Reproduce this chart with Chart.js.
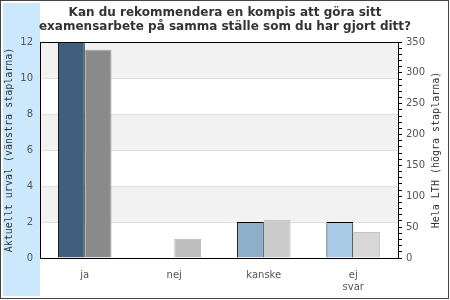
<!DOCTYPE html>
<html>
<head>
<meta charset="utf-8">
<script src="https://cdn.jsdelivr.net/npm/chart.js@4/dist/chart.umd.min.js"></script>
<style>
  html, body { margin: 0; padding: 0; background: #fff; }
  #wrap { width: 450px; height: 300px; position: relative; }
</style>
</head>
<body>
<div id="wrap"><canvas id="chart"></canvas></div>
<script>
const categories = ["ja", "nej", "kanske", ["ej", "svar"]];
const urvalValues = [12, 0, 2, 2];
const lthValues = [338, 31, 62, 42];
const leftTicks = [0, 2, 4, 6, 8, 10, 12];
const rightTicks = [0, 50, 100, 150, 200, 250, 300, 350];

const titleLines = [
  "Kan du rekommendera en kompis att göra sitt",
  "examensarbete på samma ställe som du har gjort ditt?",
];
const leftTitle = "Aktuellt urval (vänstra staplarna)";
const rightTitle = "Hela LTH (högra staplarna)";

const urvalColors = ["#3f5f7c", "#3f5f7c", "#8eafc9", "#a9cbe8"];
const lthColors = ["#8a8a8a", "#bdbdbd", "#cbcbcb", "#d7d7d7"];
const lthBorders = ["#b0b0b0", "#b8b8b8", "#bcbcbc", "#c4c4c4"];

// background strip, bands, frame, titles
const decor = {
  id: "decor",
  beforeDraw(chart) {
    const { ctx, chartArea: a, scales } = chart;
    ctx.save();
    ctx.fillStyle = "#fff";
    ctx.fillRect(0, 0, chart.width, chart.height);
    ctx.fillStyle = "#cbe8fc";
    ctx.fillRect(3, 3, 37, 293);
    // alternating bands
    const y = scales.y;
    ctx.fillStyle = "#f2f2f2";
    for (let i = 0; i < leftTicks.length - 1; i++) {
      if (i % 2 === 0) continue;
      const top = y.getPixelForValue(leftTicks[i + 1]);
      const bot = y.getPixelForValue(leftTicks[i]);
      ctx.fillRect(a.left, top, a.right - a.left, bot - top);
    }
    ctx.restore();
  },
  afterDraw(chart) {
    const { ctx, chartArea: a } = chart;
    ctx.save();
    ctx.strokeStyle = "#000";
    ctx.lineWidth = 1;
    ctx.strokeRect(Math.round(a.left) + 0.5, Math.round(a.top) + 0.5,
      Math.round(a.right - a.left), Math.round(a.bottom - a.top));
    ctx.strokeStyle = "#444";
    ctx.strokeRect(0.5, 0.5, chart.width - 2, chart.height - 2);

    ctx.fillStyle = "#333";
    ctx.font = "bold 12px 'DejaVu Sans'";
    ctx.textAlign = "center";
    ctx.textBaseline = "alphabetic";
    ctx.fillText(titleLines[0], 225, 15.5);
    ctx.fillText(titleLines[1], 225, 29.5);

    ctx.font = "10px 'DejaVu Sans Mono'";
    ctx.fillStyle = "#333";
    ctx.textBaseline = "middle";
    const mid = (a.top + a.bottom) / 2;
    ctx.translate(9, mid);
    ctx.rotate(-Math.PI / 2);
    ctx.fillText(leftTitle, 0, 0);
    ctx.rotate(Math.PI / 2);
    ctx.translate(436 - 9, 0);
    ctx.rotate(-Math.PI / 2);
    ctx.fillText(rightTitle, 0, 0);
    ctx.restore();
  },
};

new Chart(document.getElementById("chart"), {
  type: "bar",
  data: {
    labels: categories,
    datasets: [
      {
        label: leftTitle,
        data: urvalValues,
        yAxisID: "y",
        backgroundColor: urvalColors,
        borderColor: "#000",
        borderWidth: 1,
      },
      {
        label: rightTitle,
        data: lthValues,
        yAxisID: "y2",
        backgroundColor: lthColors,
        borderColor: lthBorders,
        borderWidth: 1,
      },
    ],
  },
  options: {
    responsive: true,
    maintainAspectRatio: false,
    animation: false,
    events: [],
    layout: { padding: { top: 42, left: 0, right: 0, bottom: 0 } },
    datasets: { bar: { categoryPercentage: 0.6, barPercentage: 1 } },
    plugins: {
      legend: { display: false },
      title: { display: false },
      tooltip: { enabled: false },
    },
    scales: {
      x: {
        grid: { display: false },
        border: { display: false },
        ticks: {
          color: "#555",
          font: { family: "'DejaVu Sans'", size: 10 },
          padding: 3,
          maxRotation: 0,
        },
        afterFit: (s) => { s.height = 42; },
      },
      y: {
        position: "left",
        min: 0,
        max: 12,
        ticks: {
          stepSize: 2,
          color: "#555",
          font: { family: "'DejaVu Sans'", size: 10 },
          padding: 7,
        },
        grid: { color: "#e0e0e0", drawTicks: false },
        border: { color: "#000" },
        afterFit: (s) => { s.width = 40; },
      },
      y2: {
        position: "right",
        min: 0,
        max: 350,
        ticks: {
          stepSize: 10,
          autoSkip: false,
          color: "#555",
          font: { family: "'DejaVu Sans'", size: 10 },
          padding: 4,
          callback: (v) => (rightTicks.includes(v) ? v : ""),
        },
        grid: { drawOnChartArea: false, color: "#000", tickLength: 4 },
        border: { color: "#000" },
        afterFit: (s) => { s.width = 52; },
      },
    },
  },
  plugins: [decor],
});
</script>
</body>
</html>
